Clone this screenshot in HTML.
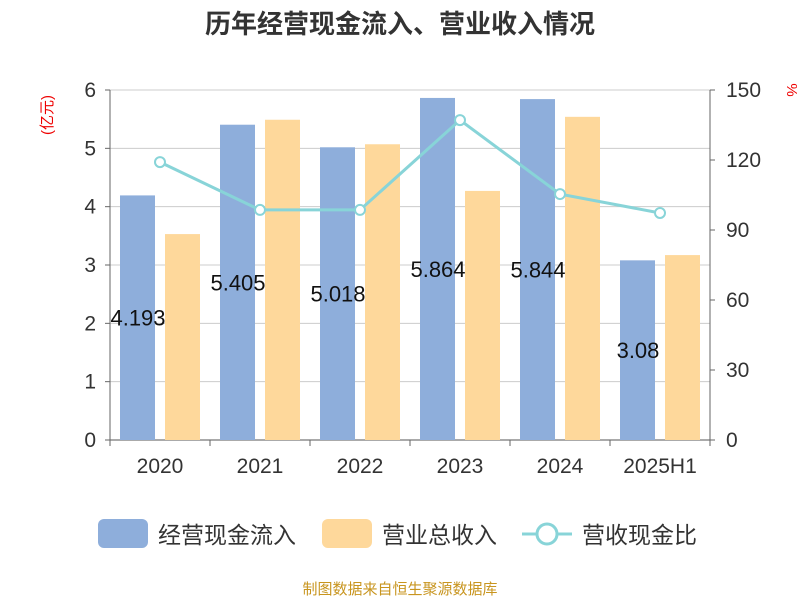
<!DOCTYPE html>
<html><head><meta charset="utf-8"><style>
body{margin:0;background:#fff;}
svg{font-family:"Liberation Sans","Noto Sans CJK SC",sans-serif;}
</style></head><body>
<svg id="chart" width="800" height="600">
<text x="400" y="33" text-anchor="middle" font-size="26" font-weight="bold" fill="#333">历年经营现金流入、营业收入情况</text>
<text x="52" y="115" font-size="15" fill="#e00" transform="rotate(-90 52 115)" text-anchor="middle">(亿元)</text>
<text x="787" y="90" font-size="15" fill="#e00" transform="rotate(90 787 90)" text-anchor="middle">%</text>
<g id="grid"></g><g id="bars"></g><g id="line"></g><g id="axes"></g>
<g>
<rect x="98" y="519" width="50" height="29" rx="6" fill="#8eaedb"/>
<text x="158" y="543" font-size="23" fill="#333">经营现金流入</text>
<rect x="322" y="519" width="50" height="29" rx="6" fill="#fed89b"/>
<text x="382" y="543" font-size="23" fill="#333">营业总收入</text>
<line x1="522" y1="534" x2="572" y2="534" stroke="#88d4d8" stroke-width="3"/>
<circle cx="547" cy="534" r="10" fill="#fff" stroke="#88d4d8" stroke-width="3"/>
<text x="582" y="543" font-size="23" fill="#333">营收现金比</text>
</g>
<text x="400" y="594" text-anchor="middle" font-size="15" fill="#c8951f">制图数据来自恒生聚源数据库</text>
</svg>
<script>
const categories=["2020","2021","2022","2023","2024","2025H1"];
const cashInflow=[4.193,5.405,5.018,5.864,5.844,3.08];
const revenue=[3.53,5.49,5.07,4.27,5.54,3.17];
const ratio=[119.1,98.6,98.6,137.1,105.4,97.3];
const leftTicks=[0,1,2,3,4,5,6];
const rightTicks=[0,30,60,90,120,150];
const NS="http://www.w3.org/2000/svg";
const X0=110,X1=710,Y0=440,Y1=90;
const bw=(X1-X0)/categories.length;
const yL=v=>Y0-(v/6)*(Y0-Y1);
const yR=v=>Y0-(v/150)*(Y0-Y1);
const xC=i=>X0+bw*(i+0.5);
function mk(t,a,p){const e=document.createElementNS(NS,t);for(const k in a)e.setAttribute(k,a[k]);p.appendChild(e);return e;}
const grid=document.getElementById('grid'),bars=document.getElementById('bars'),line=document.getElementById('line'),axes=document.getElementById('axes');
leftTicks.forEach(v=>{
 const g=mk('line',{x1:X0,x2:X1,y1:yL(v),y2:yL(v),stroke:v===0?'#555':'#ccc','stroke-width':1},grid);
 
 
 const t=mk('text',{x:X0-14,y:yL(v)+7,'text-anchor':'end','font-size':21,fill:'#333'},axes);t.textContent=v;
 
 
 mk('line',{x1:X0-5,x2:X0,y1:yL(v),y2:yL(v),stroke:'#666'},axes);
});
rightTicks.forEach(v=>{
 const t=mk('text',{x:X1+16,y:yR(v)+7,'font-size':21,fill:'#333'},axes);t.textContent=v;
 
 
 mk('line',{x1:X1,x2:X1+5,y1:yR(v),y2:yR(v),stroke:'#666'},axes);
});
mk('line',{x1:X0,x2:X0,y1:Y1,y2:Y0,stroke:'#666'},axes);
mk('line',{x1:X1,x2:X1,y1:Y1,y2:Y0,stroke:'#666'},axes);
categories.forEach((c,i)=>{
 mk('line',{x1:X0+bw*i,x2:X0+bw*i,y1:Y0,y2:Y0+6,stroke:'#666'},axes);
 const t=mk('text',{x:xC(i),y:473,'text-anchor':'middle','font-size':21,fill:'#333'},axes);t.textContent=c;
 
 
 const b=mk('rect',{x:xC(i)-40,y:yL(cashInflow[i]),width:35,height:Y0-yL(cashInflow[i]),fill:'#8eaedb'},bars);
 
 
 const o=mk('rect',{x:xC(i)+5,y:yL(revenue[i]),width:35,height:Y0-yL(revenue[i]),fill:'#fed89b'},bars);
 
 
});
mk('line',{x1:X1,x2:X1,y1:Y0,y2:Y0+6,stroke:'#666'},axes);
const pts=ratio.map((v,i)=>xC(i)+','+yR(v)).join(' ');
const pl=mk('polyline',{points:pts,fill:'none',stroke:'#88d4d8','stroke-width':3},line);


ratio.forEach((v,i)=>{
 const c=mk('circle',{cx:xC(i),cy:yR(v),r:5,fill:'#fff',stroke:'#88d4d8','stroke-width':2},line);
 
 
});
cashInflow.forEach((v,i)=>{
 const t=mk('text',{x:xC(i)-22,y:(yL(v)+Y0)/2+8,'text-anchor':'middle','font-size':22,fill:'#111'},line);
 t.textContent=v;
 
 
});
</script>
</body></html>
